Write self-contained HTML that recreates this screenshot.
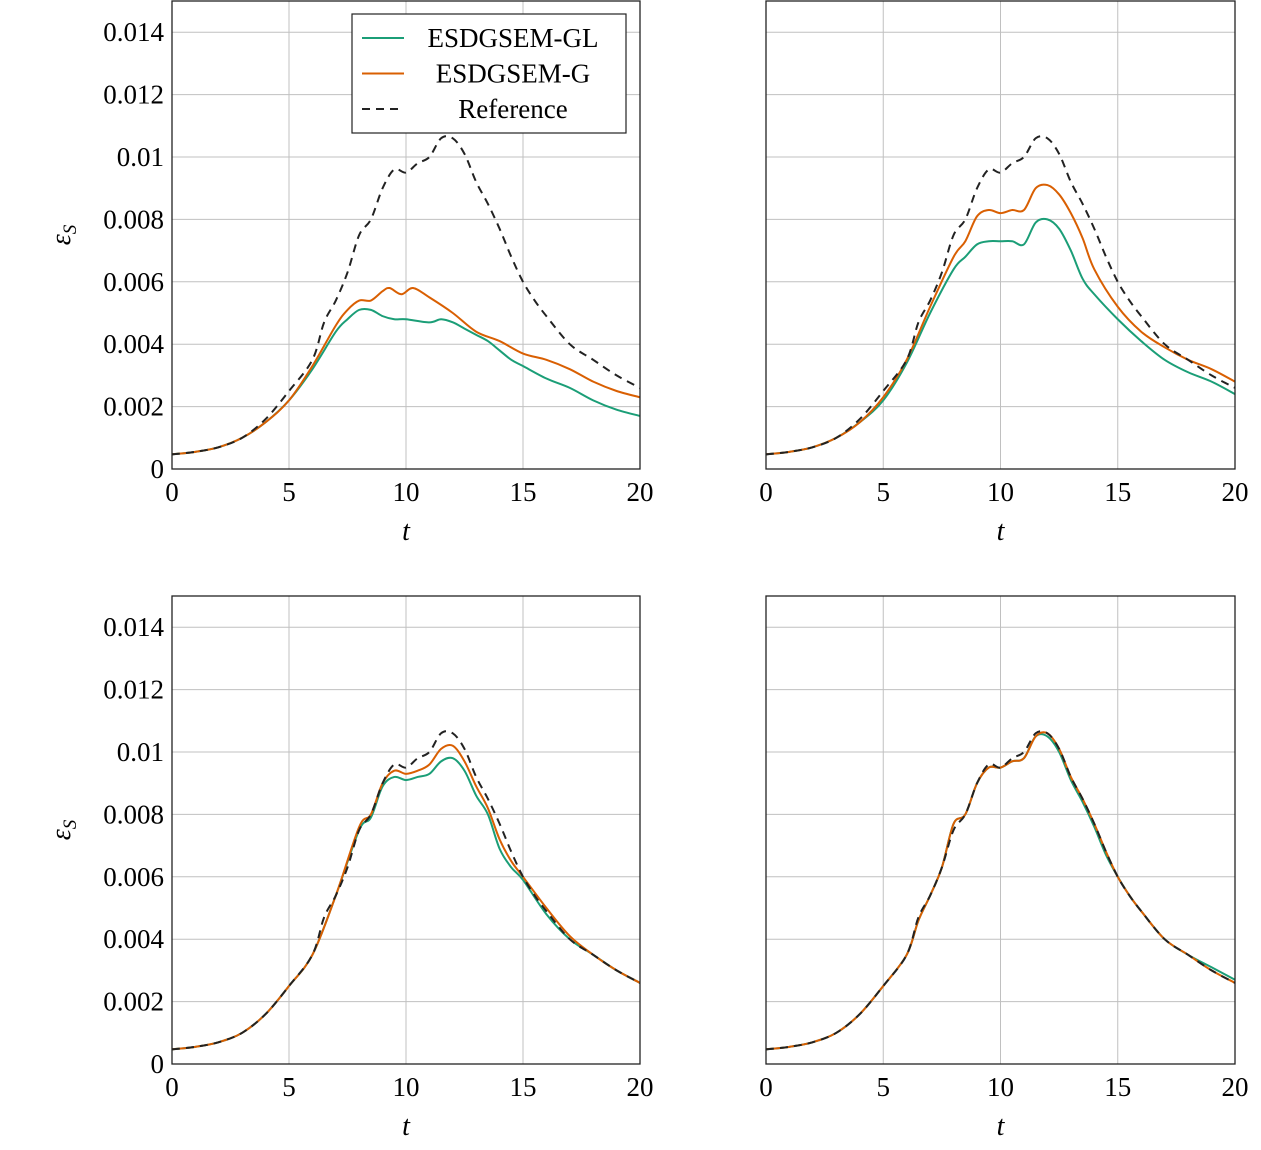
<!DOCTYPE html>
<html><head><meta charset="utf-8"><style>
body{margin:0;background:#fff;}
svg text{font-family:"Liberation Serif",serif;fill:#000;}
</style></head><body>
<svg id="fig" width="1261" height="1145" viewBox="0 0 1261 1145" xmlns="http://www.w3.org/2000/svg"></svg>
<script>
const refT=[0,1,2,3,4,5,6,6.5,7,7.5,8,8.5,9,9.5,10,10.5,11,11.5,12,12.5,13,13.5,14,14.5,15,15.5,16,17,18,19,20];
const refV=[0.00047,0.00055,0.0007,0.001,0.0016,0.0025,0.0035,0.0047,0.0054,0.0063,0.0075,0.008,0.009,0.0096,0.0095,0.0098,0.01,0.0106,0.0106,0.0101,0.0092,0.0085,0.0077,0.0068,0.006,0.0054,0.0049,0.004,0.0035,0.003,0.0026];
const p1T=[0,1,2,3,4,5,6,7,7.5,8,8.5,9,9.5,10,11,11.5,12,12.5,13,13.5,14,14.5,15,16,17,18,19,20];
const p1GL=[0.00047,0.00055,0.0007,0.001,0.0015,0.0022,0.0032,0.0044,0.0048,0.0051,0.0051,0.0049,0.0048,0.0048,0.0047,0.0048,0.0047,0.0045,0.0043,0.0041,0.0038,0.0035,0.0033,0.0029,0.0026,0.0022,0.0019,0.0017];
const p1GT=[0,1,2,3,4,5,6,7,7.5,8,8.5,9,9.3,9.8,10.3,11,12,13,14,15,16,17,18,19,20];
const p1G=[0.00047,0.00055,0.0007,0.001,0.0015,0.0022,0.0033,0.0046,0.0051,0.0054,0.0054,0.0057,0.0058,0.0056,0.0058,0.0055,0.005,0.0044,0.0041,0.0037,0.0035,0.0032,0.0028,0.0025,0.0023];
const p2T=[0,1,2,3,4,5,6,7,8,8.5,9,9.5,10,10.5,11,11.5,12,12.5,13,13.5,14,15,16,17,18,19,20];
const p2GL=[0.00047,0.00055,0.0007,0.001,0.0015,0.0022,0.0034,0.005,0.0064,0.0068,0.0072,0.0073,0.0073,0.0073,0.0072,0.0079,0.008,0.0077,0.007,0.0061,0.0056,0.0048,0.0041,0.0035,0.0031,0.0028,0.0024];
const p2G=[0.00047,0.00055,0.0007,0.001,0.0015,0.0023,0.0035,0.0052,0.0068,0.0073,0.0081,0.0083,0.0082,0.0083,0.0083,0.009,0.0091,0.0088,0.0082,0.0074,0.0064,0.0052,0.0044,0.0039,0.0035,0.0032,0.0028];
const p3T=[0,1,2,3,4,5,6,7,8,8.5,9,9.5,10,10.5,11,11.5,12,12.5,13,13.5,14,14.5,15,16,17,18,19,20];
const p3GL=[0.00047,0.00055,0.0007,0.001,0.0016,0.0025,0.0035,0.0054,0.0075,0.0079,0.0089,0.0092,0.0091,0.0092,0.0093,0.0097,0.0098,0.0094,0.0086,0.008,0.0069,0.0063,0.0059,0.0048,0.004,0.0035,0.003,0.0026];
const p3G=[0.00047,0.00055,0.0007,0.001,0.0016,0.0025,0.0035,0.0054,0.0076,0.008,0.009,0.0094,0.0093,0.0094,0.0096,0.0101,0.0102,0.0097,0.0089,0.0082,0.0072,0.0065,0.006,0.005,0.0041,0.0035,0.003,0.0026];
const p4T=[0,1,2,3,4,5,6,6.5,7,7.5,8,8.5,9,9.5,10,10.5,11,11.5,12,12.5,13,13.5,14,14.5,15,15.5,16,17,18,19,20];
const p4GL=[0.00047,0.00055,0.0007,0.001,0.0016,0.0025,0.0035,0.0046,0.0054,0.0063,0.0077,0.008,0.009,0.0095,0.0095,0.0097,0.0098,0.0105,0.0105,0.01,0.0091,0.0084,0.0076,0.0067,0.006,0.0054,0.0049,0.004,0.0035,0.0031,0.0027];
const p4G=[0.00047,0.00055,0.0007,0.001,0.0016,0.0025,0.0035,0.0046,0.0054,0.0063,0.0077,0.008,0.009,0.0095,0.0095,0.0097,0.0098,0.0105,0.0106,0.0101,0.0092,0.0085,0.0077,0.0068,0.006,0.0054,0.0049,0.004,0.0035,0.003,0.0026];
const xTicks=[0,5,10,15,20];
const yTicks=[0,0.002,0.004,0.006,0.008,0.01,0.012,0.014];
const yTickLabels=["0","0.002","0.004","0.006","0.008","0.01","0.012","0.014"];

const NS="http://www.w3.org/2000/svg";
const svg=document.getElementById('fig');
function mk(tag,attrs,parent){const e=document.createElementNS(NS,tag);for(const k in attrs)e.setAttribute(k,attrs[k]);(parent||svg).appendChild(e);return e;}
function smooth(pts){let d="M"+pts[0][0]+","+pts[0][1];for(let i=0;i<pts.length-1;i++){const p0=pts[Math.max(0,i-1)],p1=pts[i],p2=pts[i+1],p3=pts[Math.min(pts.length-1,i+2)];const c1=[p1[0]+(p2[0]-p0[0])/6,p1[1]+(p2[1]-p0[1])/6],c2=[p2[0]-(p3[0]-p1[0])/6,p2[1]-(p3[1]-p1[1])/6];d+=" C"+c1[0].toFixed(2)+","+c1[1].toFixed(2)+" "+c2[0].toFixed(2)+","+c2[1].toFixed(2)+" "+p2[0].toFixed(2)+","+p2[1].toFixed(2);}return d;}

function panel(name,x0,x1,y0,y1,showY,showLegend,series){
  const g=mk('g',{});
  
  
  const X=t=>x0+(t/20)*(x1-x0);
  const Y=v=>y0-(v/0.015)*(y0-y1);
  xTicks.forEach(t=>{const l=mk('line',{x1:X(t),x2:X(t),y1:y1,y2:y0,stroke:'#c0c0c0','stroke-width':1},g);
    const tx=mk('text',{x:X(t),y:y0+32,'font-size':27,'text-anchor':'middle'},g);tx.textContent=t;});
  yTicks.forEach((v,i)=>{const l=mk('line',{x1:x0,x2:x1,y1:Y(v),y2:Y(v),stroke:'#c0c0c0','stroke-width':1},g);
    if(showY){const tx=mk('text',{x:x0-8,y:Y(v)+9,'font-size':27,'text-anchor':'end'},g);tx.textContent=yTickLabels[i];}});
  series.forEach(s=>{const p=mk('path',{d:smooth(s.t.map((t,i)=>[X(t),Y(s.v[i])])),fill:'none',stroke:s.c,'stroke-width':2,'stroke-dasharray':s.dash||'none'},g);});
  const b=mk('rect',{x:x0,y:y1,width:x1-x0,height:y0-y1,fill:'none',stroke:'#222','stroke-width':1.3},g);
  const xl=mk('text',{x:(x0+x1)/2,y:y0+71,'font-size':28,'font-style':'italic','text-anchor':'middle'},g);xl.textContent='t';
  if(showY){const yl=mk('text',{x:0,y:0,'font-size':28,'font-style':'italic','text-anchor':'middle',transform:`translate(70,${(y0+y1)/2}) rotate(-90)`},g);yl.innerHTML='ε<tspan font-size="19" dy="6">S</tspan>';}
  if(showLegend){const lg=mk('g',{},g);
    mk('rect',{x:352,y:14,width:274,height:119,fill:'#fff',stroke:'#222','stroke-width':1.2},lg);
    const ents=[['ESDGSEM-GL','#1b9e77','none'],['ESDGSEM-G','#d95f02','none'],['Reference','#222','8,6']];
    ents.forEach((e,i)=>{const yy=38+i*35.5;const l=mk('line',{x1:362,x2:404,y1:yy,y2:yy,stroke:e[1],'stroke-width':2,'stroke-dasharray':e[2]},lg);
      const tx=mk('text',{x:513,y:yy+9,'font-size':27,'text-anchor':'middle'},lg);tx.textContent=e[0];});}
}
function S(t,gl,tg,g){return [{t:t,v:gl,c:'#1b9e77',n:'series-esdgsem-gl'},{t:tg,v:g,c:'#d95f02',n:'series-esdgsem-g'},{t:refT,v:refV,c:'#222',dash:'8,6',n:'series-reference'}];}
panel('panel-top-left',172,640,469,1,true,true,S(p1T,p1GL,p1GT,p1G));
panel('panel-top-right',766,1235,469,1,false,false,S(p2T,p2GL,p2T,p2G));
panel('panel-bottom-left',172,640,1064,596,true,false,S(p3T,p3GL,p3T,p3G));
panel('panel-bottom-right',766,1235,1064,596,false,false,S(p4T,p4GL,p4T,p4G));
</script>
</body></html>
